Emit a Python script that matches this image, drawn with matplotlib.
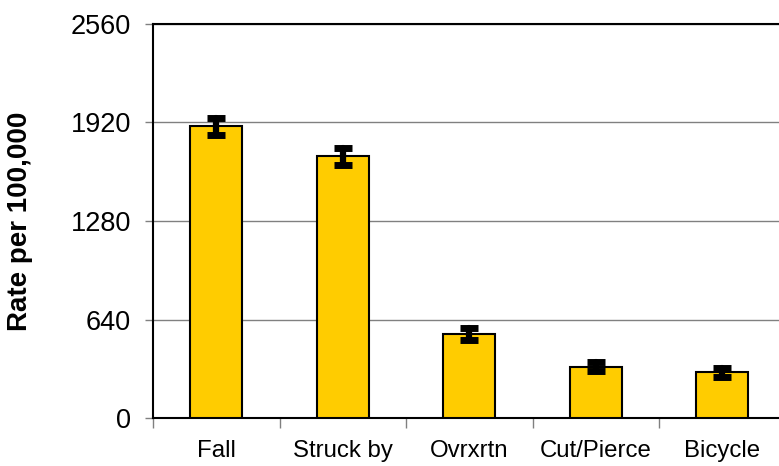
import numpy as np
import matplotlib.pyplot as plt

plt.rcParams['font.family'] = ['Liberation Sans', 'DejaVu Sans']

categories = ['Fall', 'Struck by', 'Ovrxrtn', 'Cut/Pierce', 'Bicycle']
rates = [1895, 1700, 546, 333, 297]
errors = [57, 53, 42, 30, 28]

fig = plt.figure(figsize=(7.79, 4.66), dpi=100)
ax = fig.add_axes([153 / 779, 48 / 466, 632.5 / 779, 394 / 466])

x = np.arange(len(categories))
ax.bar(x, rates, width=0.41, color='#FFCC00', edgecolor='black', linewidth=1.5, zorder=3)
eb = ax.errorbar(x, rates, yerr=errors, fmt='none', ecolor='black', elinewidth=4.5,
                 capsize=6.5, capthick=5, zorder=4)
for col in eb[2]:
    col.set_capstyle('round')

ax.set_xlim(-0.5, 4.5)
ax.set_ylim(0, 2560)
ax.set_yticks([0, 640, 1280, 1920, 2560])
ax.yaxis.grid(True, color='#808080', linewidth=1, zorder=0)
ax.set_axisbelow(True)

ax.set_xticks(x)
ax.set_xticklabels(categories, fontsize=17.3)
ax.set_xticks(np.arange(-0.5, 5, 1), minor=True)
ax.tick_params(axis='x', which='major', length=0, pad=16)
ax.tick_params(axis='x', which='minor', length=7, width=1, color='#808080', direction='out')
ax.tick_params(axis='y', length=6, width=1, color='#808080', labelsize=19.5, pad=10)

for s in ['left', 'bottom', 'top']:
    ax.spines[s].set_color('black')
    ax.spines[s].set_linewidth(1.5)
ax.spines['right'].set_visible(False)

ax.set_ylabel('Rate per 100,000', fontsize=20, fontweight='bold')
ax.yaxis.set_label_coords(-0.19, 0.5)

fig.savefig('out.png', dpi=100)
